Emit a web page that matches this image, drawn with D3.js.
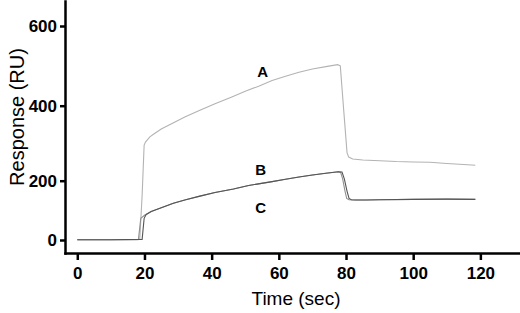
<!DOCTYPE html>
<html>
<head>
<meta charset="utf-8">
<script src="https://cdn.jsdelivr.net/npm/d3@7"></script>
<style>
  body { margin: 0; background: #fff; }
  svg { display: block; font-family: "Liberation Sans", Arial, sans-serif; }
  .axis path, .axis line { stroke: #000; stroke-width: 2.5px; }
  .axis text { font-weight: bold; font-size: 17px; fill: #000; }
</style>
</head>
<body>
<div id="chart"></div>
<script>
// sensorgram data, time in sec, response in RU
const timeA = [0, 10, 18, 18.6, 19.3, 19.9, 20.3, 21.6, 23, 25, 28.5, 32, 36.5, 41, 46, 50, 54, 58, 62, 66, 70, 74, 77.5, 78.3, 79.3, 80.3, 80.8, 82, 85, 90, 95, 100, 105, 110, 115, 118.5];
const respA = [1, 1, 1, 3, 150, 295, 303, 317, 326, 338, 354, 370, 388, 405, 422, 436, 449, 463, 474, 484, 492, 498, 503, 500, 390, 275, 263, 258, 255, 253, 251, 250, 249, 246, 243, 241];

const timeB = [0, 10, 19.3, 19.9, 20.5, 22, 25, 28.6, 32, 36.5, 41, 46.5, 51, 54.4, 58, 62, 66, 70, 74, 77.7, 78.8, 79.5, 80.3, 80.9, 81.6, 83, 86, 90, 100, 110, 118.5];
const respB = [1, 1, 2, 73, 86, 96, 109, 124, 135, 148, 160, 172, 184, 190, 197, 204, 210, 215, 220, 224, 223, 205, 165, 140, 136, 135, 135, 136, 137, 138, 137];

const timeC = [0, 10, 18.2, 18.9, 20.1, 20.5, 22, 25, 28.6, 32, 36.5, 41, 46.5, 51, 54.4, 58, 62, 66, 70, 74, 77.7, 78.4, 79, 79.7, 80.2, 80.9, 82, 86, 90, 100, 110, 118.5];
const respC = [1, 1, 2, 73, 84, 86, 96, 109, 124, 135, 148, 160, 172, 184, 190, 197, 204, 210, 215, 220, 224, 222, 205, 165, 140, 136, 135, 135, 136, 137, 138, 137];

const xTicks = [0, 20, 40, 60, 80, 100, 120];
const yTicks = [0, 200, 400, 600];
const curveNames = ["A", "B", "C"];
// where the letters sit, in data units
const labelTime = [55.2, 54.6, 54.6];
const labelResp = [485, 231, 111];

const svgWidth = 520;
const svgHeight = 313;

const svg = d3.select("#chart")
    .append("svg")
    .attr("width", svgWidth)
    .attr("height", svgHeight);

// x is linear, axis line runs a bit past 0 and 120
const x = d3.scaleLinear()
    .domain([-3.66, 131.8])
    .range([65, 520]);

// the y axis in the figure is not evenly spaced, so a piecewise scale
const y = d3.scaleLinear()
    .domain([-45, 0, 200, 400, 600, 662])
    .range([253, 240, 180.7, 105.7, 26, 1]);

const series = [
    { name: "A", t: timeA, v: respA, color: "#b3b3b3", width: 1.1 },
    { name: "C", t: timeC, v: respC, color: "#909090", width: 1.1 },
    { name: "B", t: timeB, v: respB, color: "#555555", width: 1.1 }
];

const line = d3.line()
    .x(d => x(d[0]))
    .y(d => y(d[1]));

series.forEach(function (s) {
    svg.append("path")
        .datum(s.t.map((t, i) => [t, s.v[i]]))
        .attr("fill", "none")
        .attr("stroke", s.color)
        .attr("stroke-width", s.width)
        .attr("d", line);
});

// axes
svg.append("g")
    .attr("class", "axis")
    .attr("transform", "translate(0,253)")
    .call(d3.axisBottom(x).tickValues(xTicks).tickSize(7).tickSizeOuter(0).tickPadding(3))
    .selectAll("text").attr("dy", "0.95em");

svg.append("g")
    .attr("class", "axis")
    .attr("transform", "translate(65,0)")
    .call(d3.axisLeft(y).tickValues(yTicks).tickSize(5).tickSizeOuter(0).tickPadding(3));

svg.selectAll(".axis .domain").attr("stroke-linecap", "square");

// curve letters
svg.selectAll(".curve-label")
    .data(curveNames)
    .enter()
    .append("text")
    .attr("class", "curve-label")
    .attr("x", (d, i) => x(labelTime[i]))
    .attr("y", (d, i) => y(labelResp[i]))
    .attr("text-anchor", "middle")
    .attr("dominant-baseline", "central")
    .attr("font-weight", "bold")
    .attr("font-size", "15px")
    .text(d => d);

// axis titles
svg.append("text")
    .text("Time (sec)")
    .attr("x", 296)
    .attr("y", 305)
    .attr("text-anchor", "middle")
    .attr("font-size", "19px");

svg.append("text")
    .text("Response (RU)")
    .attr("transform", "translate(24,117) rotate(-90)")
    .attr("text-anchor", "middle")
    .attr("font-size", "20px");
</script>
</body>
</html>
